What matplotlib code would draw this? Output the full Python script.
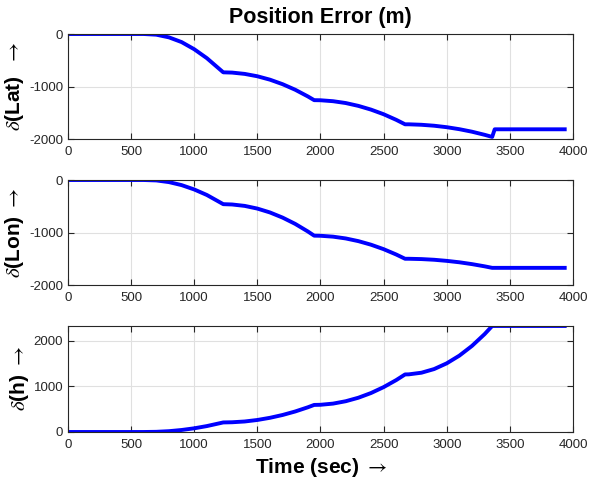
import matplotlib
matplotlib.use('Agg')
import matplotlib.pyplot as plt

# Time samples (sec)
time_s = [0, 100, 200, 300, 400, 500, 600, 700, 800, 900, 1000, 1100, 1230,
          1300, 1400, 1500, 1600, 1700, 1800, 1900, 1950,
          2000, 2100, 2200, 2300, 2400, 2500, 2600, 2670,
          2700, 2800, 2900, 3000, 3100, 3200, 3300, 3360,
          3380, 3500, 3600, 3700, 3800, 3950]

# Position errors (m)
err_lat = [0, 0, 0, 0, 0, 0, 0, -13, -64, -154, -290, -460, -730,
           -735, -760, -805, -870, -956, -1062, -1189, -1260,
           -1262, -1280, -1315, -1369, -1440, -1528, -1635, -1720,
           -1720, -1729, -1747, -1775, -1813, -1861, -1920, -1960,
           -1815, -1815, -1815, -1815, -1815, -1815]

err_lon = [0, 0, 0, 0, 0, 0, 0, -8, -40, -97, -180, -285, -460,
           -466, -493, -544, -618, -716, -836, -980, -1060,
           -1062, -1079, -1113, -1164, -1232, -1317, -1419, -1500,
           -1500, -1506, -1519, -1540, -1567, -1602, -1644, -1673,
           -1673, -1673, -1673, -1673, -1673, -1673]

err_h = [0, 0, 0, 0, 0, 0, 0, 4, 18, 44, 81, 130, 210,
         214, 231, 264, 312, 374, 451, 543, 595,
         598, 624, 676, 753, 856, 986, 1141, 1265,
         1267, 1303, 1383, 1509, 1678, 1892, 2151, 2330,
         2330, 2330, 2330, 2330, 2330, 2330]

plt.rcParams['font.family'] = ['Liberation Sans', 'DejaVu Sans']
plt.rcParams['axes.unicode_minus'] = False
plt.rcParams['mathtext.fontset'] = 'stix'

fig = plt.figure(figsize=(5.89, 4.83), dpi=100)

panels = [
    ([0.1154, 0.7122, 0.8574, 0.2174], err_lat, (-2000, 0), [-2000, -1000, 0],
     r'$\delta$(Lat)  $\rightarrow$'),
    ([0.1154, 0.4099, 0.8574, 0.2174], err_lon, (-2000, 0), [-2000, -1000, 0],
     r'$\delta$(Lon) $\rightarrow$'),
    ([0.1154, 0.1056, 0.8574, 0.2195], err_h, (0, max(err_h)), [0, 1000, 2000],
     r'$\delta$(h) $\rightarrow$'),
]

axes = []
for rect, vals, ylim, yticks, ylab in panels:
    ax = fig.add_axes(rect)
    ax.plot(time_s, vals, color='#0000ff', linewidth=2.8, solid_capstyle='butt')
    ax.set_xlim(0, 4000)
    ax.set_ylim(*ylim)
    ax.set_xticks(range(0, 4001, 500))
    ax.set_yticks(yticks)
    ax.grid(True, color='#e0e0e0', linewidth=0.8)
    ax.tick_params(direction='in', top=True, right=True, labelsize=9.5,
                   colors='#262626', length=4, width=0.8)
    ax.tick_params(axis='x', pad=5)
    ax.tick_params(axis='y', pad=3.5)
    for sp in ax.spines.values():
        sp.set_color('#262626')
        sp.set_linewidth(0.8)
    ax.set_ylabel(ylab, fontsize=15, fontweight='bold', labelpad=2)
    axes.append(ax)

axes[0].set_title('Position Error (m)', fontsize=15.5, fontweight='bold', pad=8)
axes[2].set_xlabel(r'Time (sec) $\rightarrow$', fontsize=15, fontweight='bold', labelpad=4)

fig.align_ylabels(axes)

plt.savefig('out.png', dpi=100)
